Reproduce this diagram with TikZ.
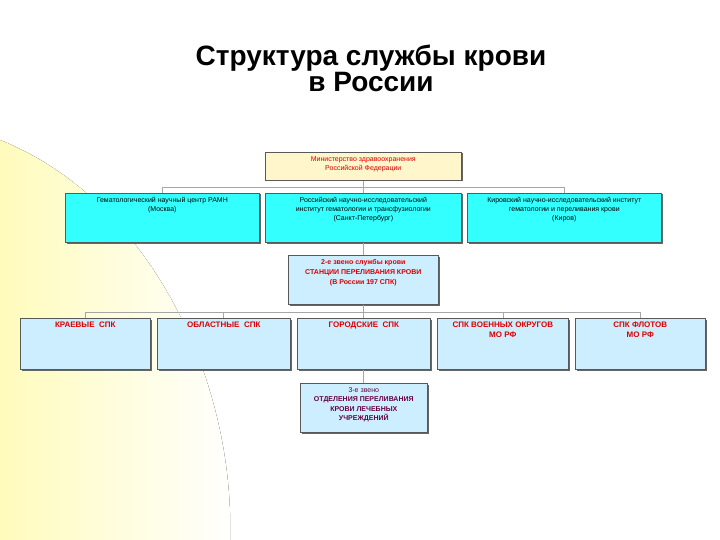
\documentclass[tikz,border=0pt]{standalone}
\usepackage{fontspec}
\setmainfont{Liberation Sans}
\usetikzlibrary{shadows}
\definecolor{cyanbox}{HTML}{33FFFF}
\definecolor{lblue}{HTML}{CCEEFF}
\definecolor{lyel}{HTML}{FFF6CC}
\definecolor{tred}{HTML}{DD0000}
\definecolor{tpurp}{HTML}{660044}
\tikzset{
 bx/.style={draw=gray!70!black, line width=0.6pt, anchor=north west, inner sep=0pt,
   drop shadow={shadow xshift=1.2pt, shadow yshift=-1.2pt, fill=black!60, opacity=1}},
 lb/.style={anchor=north, align=center, inner sep=0pt, yshift=-4pt},
 ln/.style={draw=gray!70, line width=0.5pt},
 sm/.style={font=\fontsize{7}{9}\selectfont},
 bg/.style={font=\bfseries\fontsize{8}{10}\selectfont, text=tred}
}
\begin{document}
\begin{tikzpicture}[x=1pt,y=-1pt]
\useasboundingbox (0,0) rectangle (720,540);
\fill[left color=lyel!70!yellow!60, right color=white] (0,140) .. controls (150,200) and (235,380) .. (230,540) -- (0,540) -- cycle;
\node[font=\bfseries\fontsize{28}{25}\selectfont, align=center] (title) at (371,68) {Структура службы крови\\в России};
\node[bx, minimum width=196pt, minimum height=28pt, fill=lyel] (min) at (265,152) {};
\node[lb, text=tred, sm] (minl) at (min.north) {Министерство здравоохранения\\Российской Федерации};
\node[bx, minimum width=194pt, minimum height=49pt, fill=cyanbox] (b1) at (65,193) {};
\node[lb, sm] (b1l) at (b1.north) {Гематологический научный центр РАМН\\(Москва)};
\node[bx, minimum width=196pt, minimum height=49pt, fill=cyanbox] (b2) at (265,193) {};
\node[lb, sm] (b2l) at (b2.north) {Российский научно-исследовательский\\институт гематологии и трансфузиологии\\(Санкт-Петербург)};
\node[bx, minimum width=194pt, minimum height=49pt, fill=cyanbox] (b3) at (467,193) {};
\node[lb, sm] (b3l) at (b3.north) {Кировский научно-исследовательский институт\\гематологии и переливания крови\\(Киров)};
\node[bx, minimum width=150pt, minimum height=49pt, fill=lblue] (s2) at (288,255) {};
\node[lb, text=tred, font=\bfseries\fontsize{7}{10}\selectfont] (s2l) at (s2.north) {2-е звено службы крови\\СТАНЦИИ ПЕРЕЛИВАНИЯ КРОВИ\\(В России 197 СПК)};
\foreach \n/\x/\w/\t in {k1/20/130/{КРАЕВЫЕ\ \ СПК},k2/157/133/{ОБЛАСТНЫЕ\ \ СПК},k3/297/133/{ГОРОДСКИЕ\ \ СПК},k4/437/131/{СПК ВОЕННЫХ ОКРУГОВ\\МО РФ},k5/575/130/{СПК ФЛОТОВ\\МО РФ}}{
  \node[bx, minimum width=\w pt, minimum height=51pt, fill=lblue] (\n) at (\x,318) {};
  \node[lb, bg] (\n l) at (\n.north) {\t};
}
\node[bx, minimum width=127pt, minimum height=49pt, fill=lblue] (s3) at (300,383) {};
\node[lb, text=tpurp, font=\bfseries\fontsize{7}{9.5}\selectfont] (s3l) at (s3.north) {{\mdseries 3-е звено}\\ОТДЕЛЕНИЯ ПЕРЕЛИВАНИЯ\\КРОВИ ЛЕЧЕБНЫХ\\УЧРЕЖДЕНИЙ};
% connectors
\coordinate (h1) at (min.south |- 0,187);
\coordinate (h1l) at (162,187);
\coordinate (h1r) at (564,187);
\draw[ln] (min.south) -- (h1);
\draw[ln] (b1.north -| h1l) -- (h1l) -- (h1r) -- (b3.north -| h1r);
\draw[ln] (h1) -- (b2.north);
\draw[ln] (b2.south) -- (s2.north);
\coordinate (h2) at (s2.south |- 0,312);
\coordinate (h2l) at (85,312);
\coordinate (h2r) at (640,312);
\draw[ln] (s2.south) -- (h2);
\draw[ln] (k1.north -| h2l) -- (h2l) -- (h2r) -- (k5.north -| h2r);
\foreach \n/\x in {k2/223,k3/363,k4/503}{
  \coordinate (c\n) at (\x,312);
  \draw[ln] (\n.north -| c\n) -- (c\n);
}
\draw[ln] (k3.south -| ck3) -- (s3.north -| ck3);
\end{tikzpicture}
\end{document}
